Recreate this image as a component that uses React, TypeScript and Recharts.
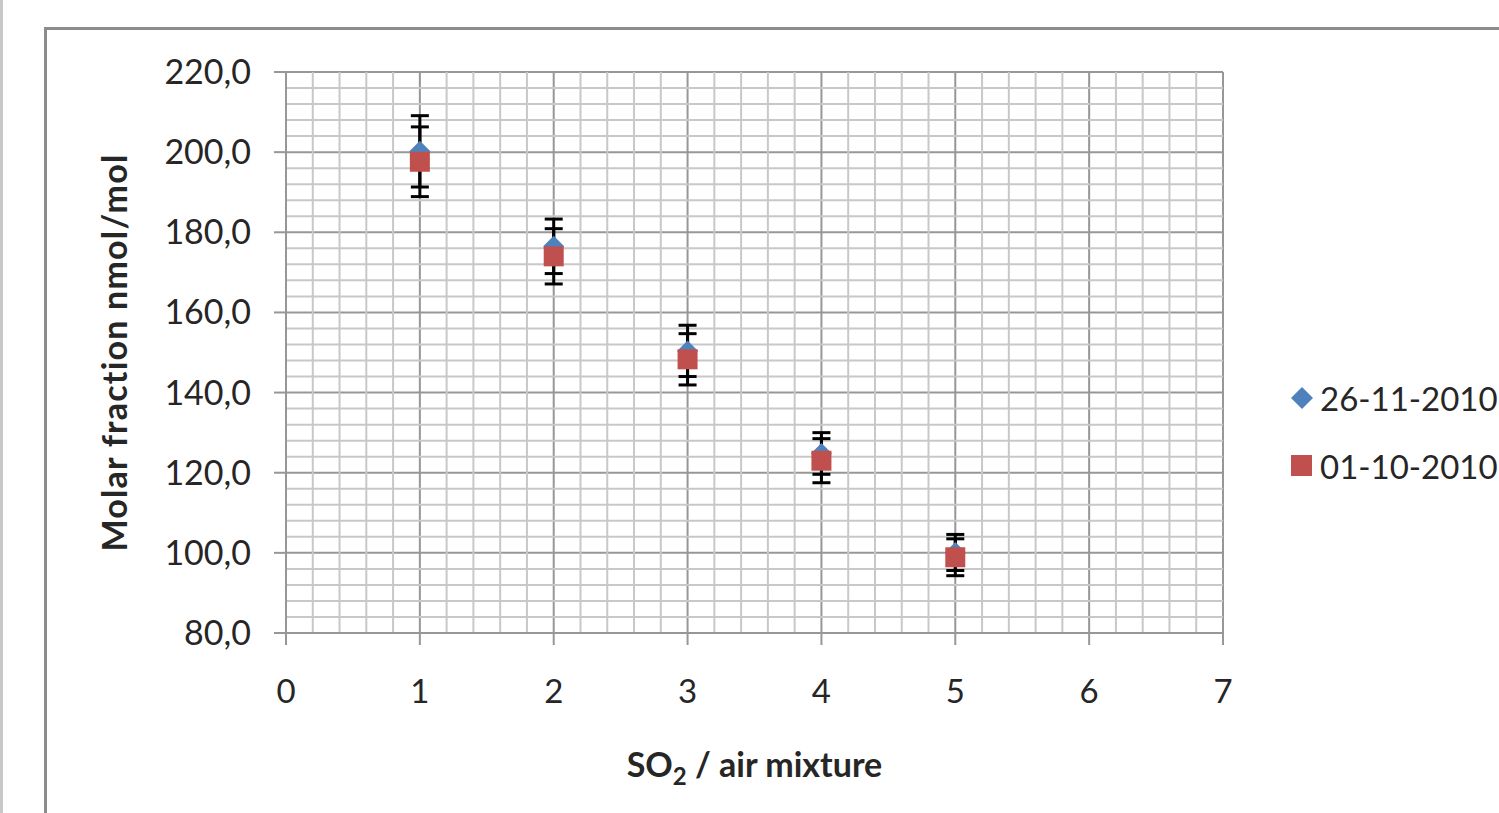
import React from 'react';
import { ScatterChart, Scatter, XAxis, YAxis, CartesianGrid, ErrorBar, ReferenceLine, Legend } from 'recharts';

const mixtures = [1, 2, 3, 4, 5];
const series1Name = '26-11-2010';
const series1Values = [200.2, 176.5, 150.4, 124.8, 100.1];
const series1Errors = [8.9, 6.8, 6.4, 5.2, 4.5];
const series2Name = '01-10-2010';
const series2Values = [197.6, 174.0, 148.3, 123.0, 98.9];
const series2Errors = [8.7, 6.9, 6.4, 5.5, 4.6];

const xTicks = [0, 1, 2, 3, 4, 5, 6, 7];
const yTicks = [80, 100, 120, 140, 160, 180, 200, 220];
const xMinorTicks = [
  0.2, 0.4, 0.6, 0.8, 1.2, 1.4, 1.6, 1.8, 2.2, 2.4, 2.6, 2.8, 3.2, 3.4, 3.6, 3.8,
  4.2, 4.4, 4.6, 4.8, 5.2, 5.4, 5.6, 5.8, 6.2, 6.4, 6.6, 6.8,
];
const yMinorTicks = [
  84, 88, 92, 96, 104, 108, 112, 116, 124, 128, 132, 136, 144, 148, 152, 156,
  164, 168, 172, 176, 184, 188, 192, 196, 204, 208, 212, 216,
];

const BLUE = '#4F81BD';
const RED = '#C0504D';
const FONT = 'Lato, "Noto Sans", sans-serif';
const TEXT = '#262626';

const data1 = mixtures.map((x, i) => ({ x, y: series1Values[i], err: series1Errors[i] }));
const data2 = mixtures.map((x, i) => ({ x, y: series2Values[i], err: series2Errors[i] }));

const Diamond = (props: any) => {
  const { cx, cy } = props;
  const r = 10.5;
  return <path d={`M${cx},${cy - r}L${cx + r},${cy}L${cx},${cy + r}L${cx - r},${cy}Z`} fill={BLUE} />;
};
const Square = (props: any) => {
  const { cx, cy } = props;
  const s = 10;
  return <rect x={cx - s} y={cy - s} width={2 * s} height={2 * s} fill={RED} />;
};

const fmt = (v: number) => v.toFixed(1).replace('.', ',');

const LegendContent = () => (
  <div style={{ fontFamily: FONT, fontSize: 33, color: TEXT, lineHeight: '68px', whiteSpace: 'nowrap' }}>
    <div style={{ display: 'flex', alignItems: 'center' }}>
      <svg width={24} height={24} style={{ marginRight: 6 }}>
        <path d="M12,1L23,12L12,23L1,12Z" fill={BLUE} />
      </svg>
      <span>{series1Name}</span>
    </div>
    <div style={{ display: 'flex', alignItems: 'center' }}>
      <svg width={24} height={24} style={{ marginRight: 6 }}>
        <rect x={1} y={1} width={21} height={21} fill={RED} />
      </svg>
      <span>{series2Name}</span>
    </div>
  </div>
);

const XTitle = (props: any) => {
  const vb = props.viewBox || {};
  const cx = vb.x + vb.width / 2;
  const y = vb.y + 144;
  return (
    <text x={cx} y={y} textAnchor="middle" fontFamily={FONT} fontWeight="bold" fontSize={34} fill={TEXT}>
      <tspan>SO</tspan>
      <tspan fontSize={24} dy={8}>2</tspan>
      <tspan dy={-8}> / air mixture</tspan>
    </text>
  );
};

const YTitle = (props: any) => {
  const vb = props.viewBox || {};
  const x = vb.x + 41;
  const cy = vb.y + vb.height / 2;
  return (
    <text
      x={x}
      y={cy}
      transform={`rotate(-90, ${x}, ${cy})`}
      textAnchor="middle"
      fontFamily={FONT}
      fontWeight="bold"
      fontSize={34}
      letterSpacing={1.2}
      fill={TEXT}
    >
      Molar fraction nmol/mol
    </text>
  );
};

export default function App() {
  return (
    <div style={{ position: 'fixed', left: 0, top: 0, width: 1499, height: 813, overflow: 'hidden', background: '#fff' }}>
      <div style={{ position: 'absolute', left: 0, top: 0, width: 3, height: 813, background: '#c8c8c8' }} />
      <div
        style={{
          position: 'absolute',
          left: 44,
          top: 27,
          width: 1600,
          height: 900,
          border: '3px solid #8c8c8c',
          boxSizing: 'border-box',
        }}
      />
      <div style={{ position: 'absolute', left: 0, top: 0 }}>
        <ScatterChart width={1499} height={813} margin={{ top: 72, right: 276, bottom: 30, left: 86 }}>
          {xMinorTicks.map((v) => (
            <ReferenceLine key={'xm' + v} x={v} stroke="#c8c8c8" strokeWidth={2} />
          ))}
          {yMinorTicks.map((v) => (
            <ReferenceLine key={'ym' + v} y={v} stroke="#c8c8c8" strokeWidth={2} />
          ))}
          <CartesianGrid stroke="#979797" strokeWidth={2} horizontal vertical />
          <XAxis
            type="number"
            dataKey="x"
            domain={[0, 7]}
            ticks={xTicks}
            interval={0}
            allowDecimals={false}
            height={150}
            stroke="#979797"
            strokeWidth={2}
            tickSize={12}
            tickMargin={35}
            tick={{ fill: TEXT, fontSize: 33, fontFamily: FONT }}
            label={<XTitle />}
          />
          <YAxis
            type="number"
            dataKey="y"
            domain={[80, 220]}
            ticks={yTicks}
            interval={0}
            width={200}
            stroke="#979797"
            strokeWidth={2}
            tickSize={12}
            tickMargin={23}
            tickFormatter={fmt}
            tick={{ fill: TEXT, fontSize: 34, fontFamily: FONT }}
            label={<YTitle />}
          />
          <Legend
            layout="vertical"
            align="center"
            verticalAlign="middle"
            content={<LegendContent />}
            wrapperStyle={{ position: 'absolute', left: 1290, top: 364, width: 260 }}
          />
          <Scatter name={series1Name} data={data1} shape={<Diamond />} isAnimationActive={false}>
            <ErrorBar dataKey="err" direction="y" width={9} strokeWidth={3} stroke="#000" />
          </Scatter>
          <Scatter name={series2Name} data={data2} shape={<Square />} isAnimationActive={false}>
            <ErrorBar dataKey="err" direction="y" width={9} strokeWidth={3} stroke="#000" />
          </Scatter>
        </ScatterChart>
      </div>
    </div>
  );
}
